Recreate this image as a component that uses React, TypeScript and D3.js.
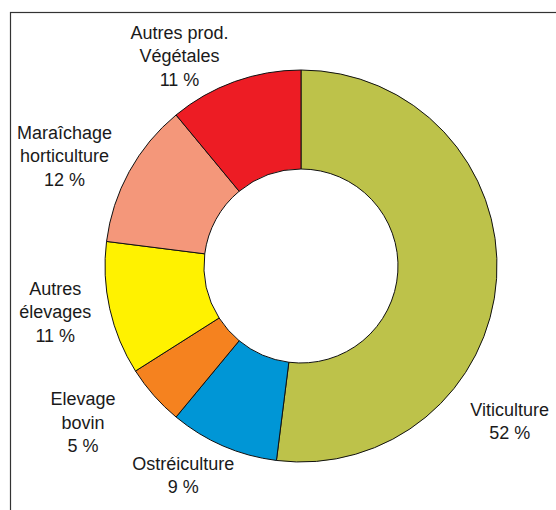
import React, { useEffect, useRef } from 'react';
import * as d3 from 'd3';

// Shares of each activity (clockwise from 12 o'clock)
const categories = [
  'Viticulture',
  'Ostréiculture',
  'Elevage bovin',
  'Autres élevages',
  'Maraîchage horticulture',
  'Autres prod. Végétales',
];
const values = [52, 9, 5, 11, 12, 11];
const labelLines = [
  ['Viticulture', '52 %'],
  ['Ostréiculture', '9 %'],
  ['Elevage', 'bovin', '5 %'],
  ['Autres', 'élevages', '11 %'],
  ['Maraîchage', 'horticulture', '12 %'],
  ['Autres prod.', 'Végétales', '11 %'],
];
const colors = ['#bdc24a', '#0096d6', '#f5821f', '#fff200', '#f4977a', '#ed1c24'];

// label placement around the ring (degrees clockwise from top, distance from centre)
const labelAngle = [126.6, 209.4, 234.4, 259.4, 295, 330];
const labelRadius = [260, 240, 268, 250, 261, 243];

const App = () => {
  const svgRef = useRef<SVGSVGElement>(null);

  useEffect(() => {
    const svg = d3.select(svgRef.current);
    svg.selectAll('*').remove();

    const width = 556;
    const height = 510;
    const cx = 301;
    const cy = 266;
    const outer = 196;
    const inner = 97;

    svg.append('rect')
      .attr('width', width)
      .attr('height', height)
      .attr('fill', 'white');

    // chart frame (runs off the right and bottom edges)
    svg.append('rect')
      .attr('x', 10.5)
      .attr('y', 12.5)
      .attr('width', width + 20)
      .attr('height', height + 20)
      .attr('fill', 'none')
      .attr('stroke', '#333')
      .attr('stroke-width', 1.2);

    const pie = d3.pie<number>().sort(null).value(d => d);
    const arc = d3.arc<d3.PieArcDatum<number>>()
      .innerRadius(inner)
      .outerRadius(outer);

    const g = svg.append('g').attr('transform', `translate(${cx},${cy})`);

    g.selectAll('path.slice')
      .data(pie(values))
      .enter()
      .append('path')
      .attr('class', 'slice')
      .attr('d', arc)
      .attr('fill', (d, i) => colors[i])
      .attr('stroke', '#111')
      .attr('stroke-width', 1);

    const lineH = 23.5;
    const labels = g.selectAll('text.label')
      .data(categories)
      .enter()
      .append('text')
      .attr('class', 'label')
      .attr('text-anchor', 'middle')
      .attr('fill', '#1a1a1a')
      .style('font-family', '"Liberation Sans", Arial, sans-serif')
      .style('font-size', '18px')
      .attr('transform', (d, i) => {
        const a = (labelAngle[i] * Math.PI) / 180;
        const x = labelRadius[i] * Math.sin(a);
        const y = -labelRadius[i] * Math.cos(a);
        return `translate(${x},${y})`;
      });

    labels.each(function (d, i) {
      const lines = labelLines[i];
      const t = d3.select(this);
      lines.forEach((line, k) => {
        t.append('tspan')
          .attr('x', 0)
          .attr('y', (k - (lines.length - 1) / 2) * lineH + 6.5)
          .text(line);
      });
    });
  }, []);

  return (
    <svg
      ref={svgRef}
      width={556}
      height={510}
      style={{ position: 'absolute', left: 0, top: 0 }}
    ></svg>
  );
};

export default App;
